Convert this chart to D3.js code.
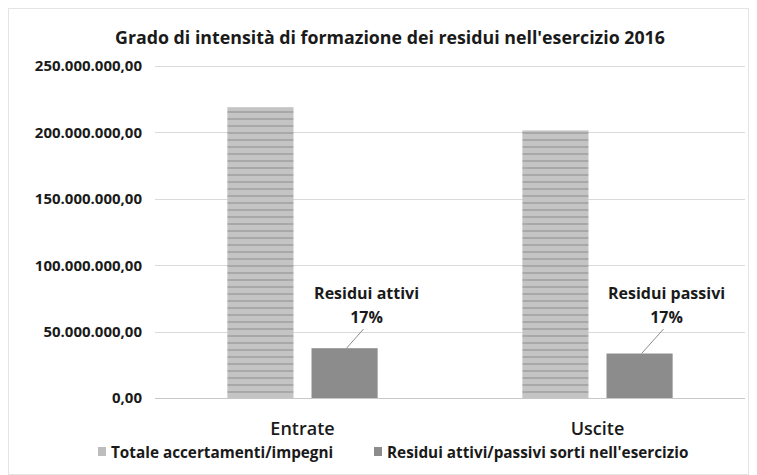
<!DOCTYPE html>
<html>
<head>
<meta charset="utf-8">
<script src="https://cdn.jsdelivr.net/npm/d3@7"></script>
<style>
  body { margin: 0; background: #fff; }
  text { font-family: "Open Sans", "Noto Sans", sans-serif; }
</style>
</head>
<body>
<div id="chart"></div>
<script>
// data
var categories = ["Entrate", "Uscite"];
var seriesNames = ["Totale accertamenti/impegni", "Residui attivi/passivi sorti nell'esercizio"];
var totali = [219000000, 201500000];
var residui = [37500000, 33500000];
var labelNames = ["Residui attivi", "Residui passivi"];
var labelPct = ["17%", "17%"];
var yTicks = [0, 50000000, 100000000, 150000000, 200000000, 250000000];

var W = 757, H = 475;
var margin = {top: 66, right: 12, bottom: 77, left: 155};
var width = W - margin.left - margin.right,
    height = H - margin.top - margin.bottom;

var svg = d3.select("#chart").append("svg")
    .attr("width", W)
    .attr("height", H);

// stripy fill for the big bars (scan look)
var defs = svg.append("defs");
var pat = defs.append("pattern")
    .attr("id", "stripes")
    .attr("patternUnits", "userSpaceOnUse")
    .attr("width", 10).attr("height", 7);
pat.append("rect").attr("width", 10).attr("height", 7).attr("fill", "#c4c4c4");
pat.append("rect").attr("y", 3).attr("width", 10).attr("height", 2).attr("fill", "#a8a8a8");

// faint frame
svg.append("rect")
    .attr("x", 8.5).attr("y", 8.5)
    .attr("width", W - 17).attr("height", H - 9)
    .attr("fill", "none")
    .attr("stroke", "#e4e4e4");

var g = svg.append("g")
    .attr("transform", "translate(" + margin.left + "," + margin.top + ")");

var x0 = d3.scaleBand().domain(categories).range([0, width]).paddingInner(0).paddingOuter(0);
var x1 = d3.scaleBand().domain(["tot", "res"]).range([0, x0.bandwidth()]).paddingInner(0.214).paddingOuter(0.86);
var y = d3.scaleLinear().domain([0, 250000000]).range([height, 0]);

var fmt = function(v) {
    var s = d3.format(",.2f")(v);
    return s.replace(/,/g, "#").replace(".", ",").replace(/#/g, ".");
};

// gridlines
g.selectAll(".grid").data(yTicks).enter().append("line")
    .attr("x1", 0).attr("x2", width)
    .attr("y1", function(d) { return Math.round(y(d)) + 0.5; })
    .attr("y2", function(d) { return Math.round(y(d)) + 0.5; })
    .attr("stroke", function(d) { return d === 0 ? "#c8c8c8" : "#dadada"; })
    .attr("stroke-width", 1);

// y axis labels
var yAxis = d3.axisLeft(y).tickValues(yTicks).tickFormat(fmt).tickSize(0).tickPadding(13);
g.append("g").call(yAxis)
    .call(function(a) { a.select(".domain").remove(); })
    .selectAll("text")
    .attr("font-size", 15)
    .attr("font-weight", "bold")
    .attr("fill", "#1a1a1a")
    .attr("font-family", "'Open Sans', sans-serif");

// bars
var groups = g.selectAll(".cat").data(categories).enter().append("g")
    .attr("transform", function(d) { return "translate(" + x0(d) + ",0)"; });

groups.append("rect")
    .attr("x", x1("tot"))
    .attr("width", x1.bandwidth())
    .attr("y", function(d, i) { return y(totali[i]); })
    .attr("height", function(d, i) { return y(0) - y(totali[i]); })
    .attr("fill", "url(#stripes)");

groups.append("rect")
    .attr("x", x1("res"))
    .attr("width", x1.bandwidth())
    .attr("y", function(d, i) { return y(residui[i]); })
    .attr("height", function(d, i) { return y(0) - y(residui[i]); })
    .attr("fill", "#8c8c8c");

// data labels with leader lines
groups.each(function(d, i) {
    var grp = d3.select(this);
    var bx = x1("res") + x1.bandwidth() / 2;
    var lx = bx + (i === 0 ? 22 : 27);
    var top = y(residui[i]);
    grp.append("text")
        .attr("x", lx).attr("y", 233)
        .attr("text-anchor", "middle")
        .attr("font-size", 16).attr("font-weight", "bold").attr("fill", "#1a1a1a")
        .text(labelNames[i]);
    grp.append("text")
        .attr("x", lx).attr("y", 257)
        .attr("text-anchor", "middle")
        .attr("font-size", 16).attr("font-weight", "bold").attr("fill", "#1a1a1a")
        .text(labelPct[i]);
    grp.append("line")
        .attr("x1", lx - 3).attr("y1", 263)
        .attr("x2", bx + 2).attr("y2", top)
        .attr("stroke", "#8c8c8c").attr("stroke-width", 1);
});

// x axis labels
var xAxis = d3.axisBottom(x0).tickSize(0).tickPadding(24);
g.append("g").attr("transform", "translate(0," + height + ")").call(xAxis)
    .call(function(a) { a.select(".domain").remove(); })
    .selectAll("text")
    .attr("font-size", 18)
    .attr("font-weight", 600)
    .attr("fill", "#1a1a1a")
    .attr("font-family", "'Open Sans', sans-serif");

// title
svg.append("text")
    .attr("x", 390).attr("y", 44)
    .attr("text-anchor", "middle")
    .attr("font-size", 17.8).attr("font-weight", "bold").attr("fill", "#1a1a1a")
    .text("Grado di intensità di formazione dei residui nell'esercizio 2016");

// legend
var legendX = [98, 374];
var legendFill = ["#bdbdbd", "#8c8c8c"];
var leg = svg.selectAll(".leg").data(seriesNames).enter().append("g")
    .attr("transform", function(d, i) { return "translate(" + legendX[i] + ",458)"; });
leg.append("rect")
    .attr("x", 0).attr("y", -11).attr("width", 8).attr("height", 9)
    .attr("fill", function(d, i) { return legendFill[i]; });
leg.append("text")
    .attr("x", 13).attr("y", 0)
    .attr("font-size", 15.3).attr("font-weight", "bold").attr("fill", "#1a1a1a")
    .text(function(d) { return d; });
</script>
</body>
</html>
